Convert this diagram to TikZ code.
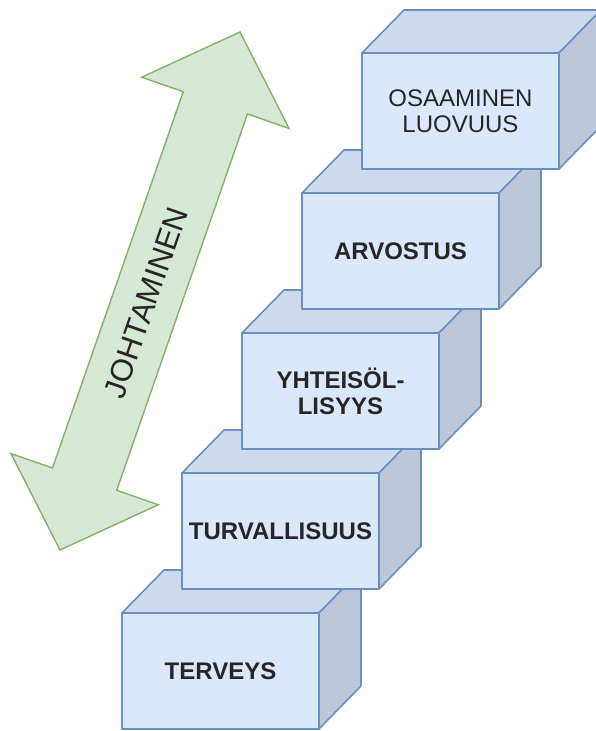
\documentclass[tikz,border=0pt]{standalone}
\usepackage{fontspec}
\setmainfont{Liberation Sans}
\definecolor{cubefill}{HTML}{DAE8FC}
\definecolor{cubeline}{HTML}{6C8EBF}
\definecolor{arrowfill}{HTML}{D5E8D4}
\definecolor{arrowline}{HTML}{82B366}
\tikzset{
  cubeface/.style={draw=cubeline, line width=1.6pt, line join=round},
  steplabel/.style={align=center, text=black!85}
}

\begin{document}
\begin{tikzpicture}[x=1pt,y=1pt]
	\clip (0,0) rectangle (596,731);

	\def \W {197}
	\def \H {116}
	\def \D {42}
	\def \E {43}

        % draw the stairs, bottom step first
        \foreach \i/\name/\txt/\wt in {0/terveys/{TERVEYS}/\bfseries,
                1/turva/{TURVALLISUUS}/\bfseries,
                2/yhteiso/{YHTEISÖL-\\LISYYS}/\bfseries,
                3/arvostus/{ARVOSTUS}/\bfseries,
                4/osaaminen/{OSAAMINEN\\LUOVUUS}/\mdseries} {
          \begin{scope}[shift={({\i*60},{\i*140})}]
                % top and side of the cube
                \draw[cubeface, fill=cubefill!94!black] (122,2+\H) -- (122+\D,2+\H+\E)
                        -- (122+\W+\D,2+\H+\E) -- (122+\W,2+\H) -- cycle;
                \draw[cubeface, fill=cubefill!86!black] (122+\W,2) -- (122+\W+\D,2+\E)
                        -- (122+\W+\D,2+\H+\E) -- (122+\W,2+\H) -- cycle;
                % front of the cube
                \draw[cubeface, fill=cubefill] (122,2) rectangle (122+\W,2+\H);
                \node[steplabel, font={\fontsize{24}{26}\selectfont\wt}]
                        (\name) at (122+\W/2,2+\H/2) {\txt};
          \end{scope}
        }

	\def \L {548.4}
	\def \hl {75}

        % draw the double arrow
        \begin{scope}[shift={(60,181)}, rotate=70.84]
                \draw[arrowline, fill=arrowfill, line width=1.4pt, line join=miter]
                        (0,0) -- (\hl,78) -- (\hl,34) -- (\L-\hl,34) -- (\L-\hl,78)
                        -- (\L,0) -- (\L-\hl,-78) -- (\L-\hl,-34) -- (\hl,-34)
                        -- (\hl,-78) -- cycle;
                \node[rotate=70.84, text=black!85, font=\fontsize{31}{31}\selectfont]
                        (johtaminen) at (262,0) {JOHTAMINEN};
        \end{scope}

\end{tikzpicture}
\end{document}
